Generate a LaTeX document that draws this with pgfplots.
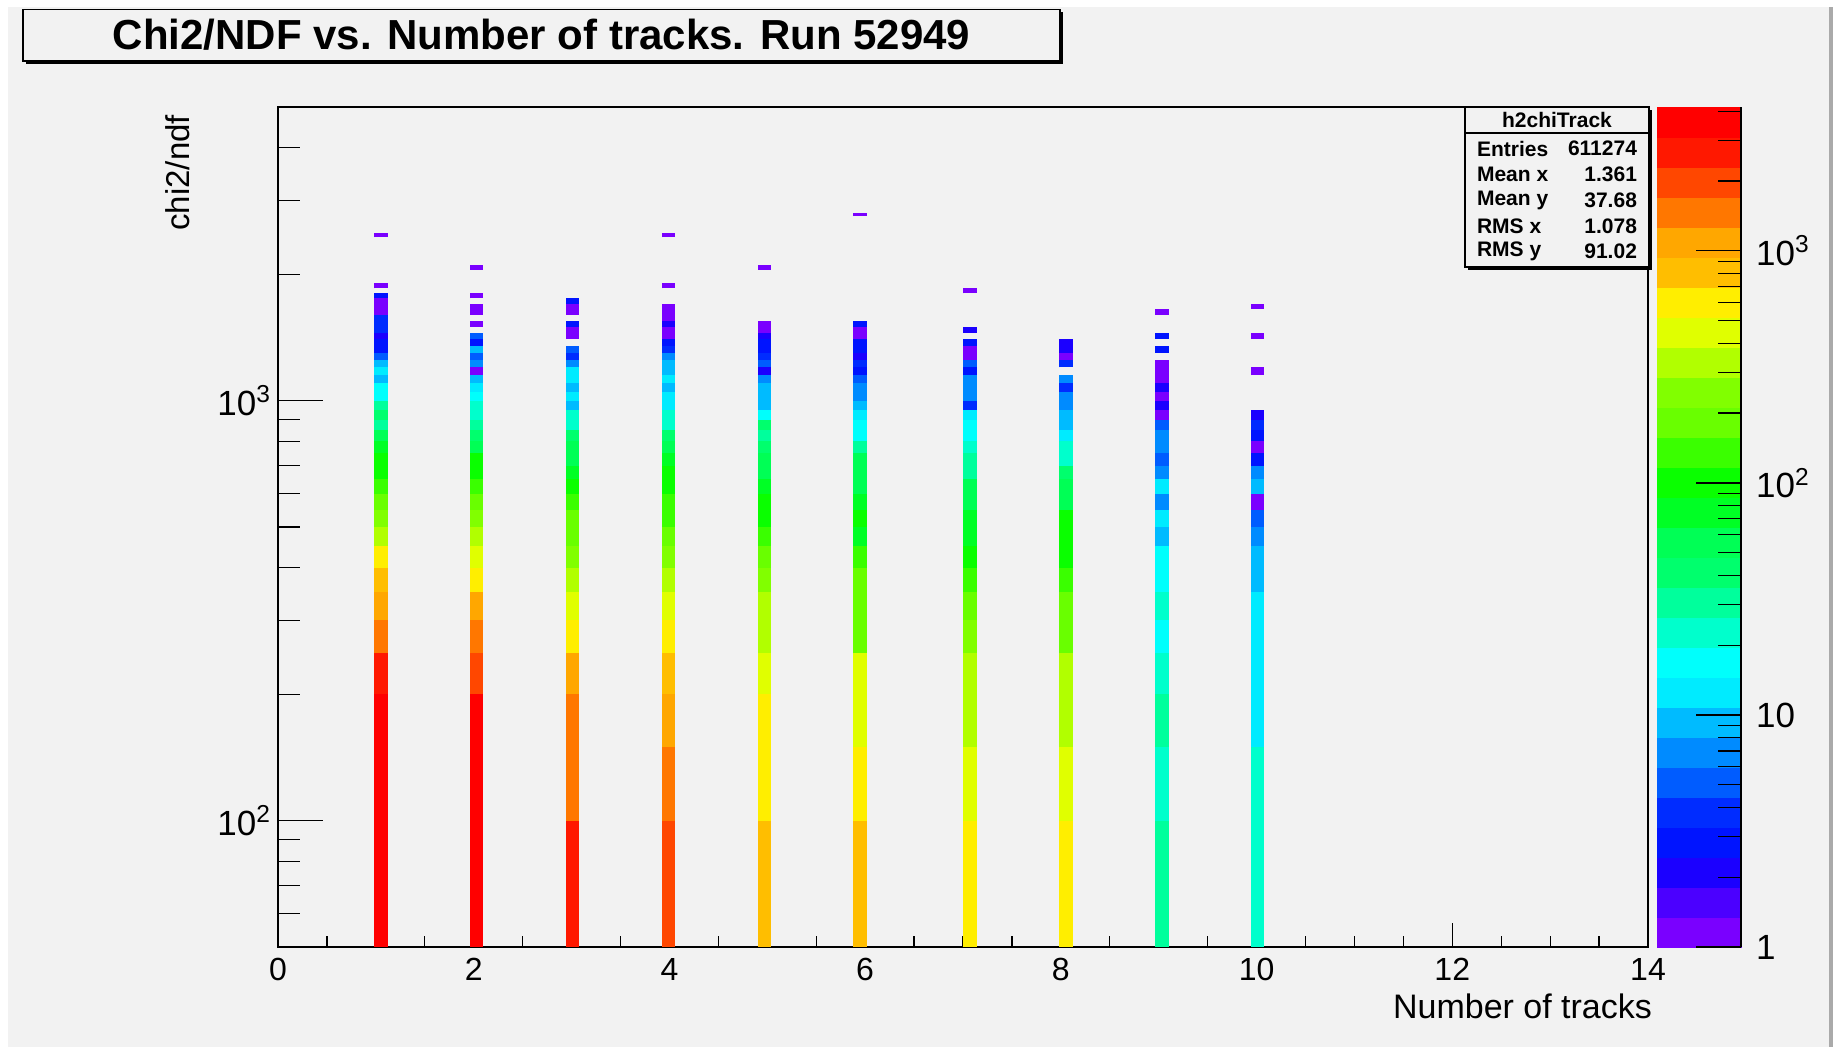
\documentclass[border=0pt]{standalone}
\usepackage{pgfplots}
\pgfplotsset{compat=1.18}
\usepackage{pgfplotstable}
\usepackage{fontspec}
\setmainfont{Liberation Sans}

\definecolor{rootbg}{RGB}{242,242,242}
\definecolor{rootedge}{RGB}{170,170,170}

% ROOT "pretty" palette, 28 contour levels
\pgfplotsset{
  colormap={rootpretty}{
    rgb255=(122,0,255) rgb255=(75,0,255) rgb255=(27,0,255) rgb255=(0,20,255)
    rgb255=(0,44,255) rgb255=(0,92,255) rgb255=(0,139,255) rgb255=(0,187,255)
    rgb255=(0,235,255) rgb255=(0,255,252) rgb255=(0,255,204) rgb255=(0,255,156)
    rgb255=(0,255,109) rgb255=(0,255,85) rgb255=(0,255,37) rgb255=(10,255,0)
    rgb255=(58,255,0) rgb255=(105,255,0) rgb255=(129,255,0) rgb255=(177,255,0)
    rgb255=(224,255,0) rgb255=(255,238,0) rgb255=(255,190,0) rgb255=(255,167,0)
    rgb255=(255,119,0) rgb255=(255,71,0) rgb255=(255,24,0) rgb255=(255,0,0)
  }
}

% h2chiTrack: x = bin centre (bin width 0.14), y = lower edge of chi2/ndf bin (width 50), n = entries
% a row with y = nan closes a run of filled bins (its last row is the upper edge)
\pgfplotstableread{
x y n
1.05 50 3436
1.05 100 3436
1.05 150 3436
1.05 200 2555
1.05 250 1413
1.05 300 1051
1.05 350 782
1.05 400 581
1.05 450 322
1.05 500 239
1.05 550 178
1.05 600 132
1.05 650 98
1.05 700 98
1.05 750 73
1.05 800 54
1.05 850 30
1.05 900 40
1.05 950 30
1.05 1000 17
1.05 1050 17
1.05 1100 9
1.05 1150 12
1.05 1200 9
1.05 1250 5
1.05 1300 3
1.05 1350 3
1.05 1400 2
1.05 1450 4
1.05 1500 4
1.05 1550 4
1.05 1600 1
1.05 1650 1
1.05 1700 1
1.05 1750 3
1.05 1800 1
1.05 nan 1
1.05 1850 1
1.05 1900 1
1.05 nan 1
1.05 2450 1
1.05 2500 1
1.05 nan 1
2.03 50 3436
2.03 100 3436
2.03 150 3436
2.03 200 1900
2.03 250 1413
2.03 300 1051
2.03 350 581
2.03 400 432
2.03 450 322
2.03 500 239
2.03 550 178
2.03 600 132
2.03 650 98
2.03 700 98
2.03 750 54
2.03 800 40
2.03 850 30
2.03 900 22
2.03 950 22
2.03 1000 17
2.03 1050 12
2.03 1100 9
2.03 1150 1
2.03 1200 7
2.03 1250 5
2.03 1300 9
2.03 1350 3
2.03 1400 5
2.03 1450 1
2.03 nan 1
2.03 1500 1
2.03 1550 1
2.03 nan 1
2.03 1600 1
2.03 1650 1
2.03 1700 1
2.03 nan 1
2.03 1750 1
2.03 1800 1
2.03 nan 1
2.03 2050 1
2.03 2100 1
2.03 nan 1
3.01 50 2555
3.01 100 1413
3.01 150 1413
3.01 200 1051
3.01 250 581
3.01 300 432
3.01 350 322
3.01 400 239
3.01 450 178
3.01 500 178
3.01 550 132
3.01 600 98
3.01 650 73
3.01 700 54
3.01 750 54
3.01 800 40
3.01 850 22
3.01 900 22
3.01 950 9
3.01 1000 12
3.01 1050 9
3.01 1100 12
3.01 1150 12
3.01 1200 7
3.01 1250 4
3.01 1300 5
3.01 1350 1
3.01 nan 1
3.01 1400 1
3.01 1450 1
3.01 1500 3
3.01 1550 1
3.01 nan 1
3.01 1600 1
3.01 1650 1
3.01 1700 3
3.01 1750 1
3.01 nan 1
3.99 50 1900
3.99 100 1413
3.99 150 1051
3.99 200 782
3.99 250 581
3.99 300 432
3.99 350 322
3.99 400 239
3.99 450 178
3.99 500 132
3.99 550 132
3.99 600 98
3.99 650 98
3.99 700 73
3.99 750 54
3.99 800 40
3.99 850 22
3.99 900 22
3.99 950 12
3.99 1000 12
3.99 1050 9
3.99 1100 12
3.99 1150 9
3.99 1200 9
3.99 1250 7
3.99 1300 4
3.99 1350 3
3.99 1400 1
3.99 1450 1
3.99 1500 2
3.99 1550 1
3.99 1600 1
3.99 1650 1
3.99 1700 1
3.99 nan 1
3.99 1850 1
3.99 1900 1
3.99 nan 1
3.99 2450 1
3.99 2500 1
3.99 nan 1
4.97 50 782
4.97 100 581
4.97 150 581
4.97 200 432
4.97 250 322
4.97 300 322
4.97 350 239
4.97 400 178
4.97 450 132
4.97 500 98
4.97 550 98
4.97 600 73
4.97 650 54
4.97 700 54
4.97 750 40
4.97 800 30
4.97 850 40
4.97 900 17
4.97 950 9
4.97 1000 9
4.97 1050 9
4.97 1100 7
4.97 1150 2
4.97 1200 5
4.97 1250 4
4.97 1300 3
4.97 1350 3
4.97 1400 2
4.97 1450 1
4.97 1500 1
4.97 1550 1
4.97 nan 1
4.97 2050 1
4.97 2100 1
4.97 nan 1
5.95 50 782
5.95 100 581
5.95 150 432
5.95 200 432
5.95 250 178
5.95 300 178
5.95 350 178
5.95 400 132
5.95 450 73
5.95 500 98
5.95 550 73
5.95 600 54
5.95 650 54
5.95 700 54
5.95 750 30
5.95 800 17
5.95 850 17
5.95 900 12
5.95 950 9
5.95 1000 7
5.95 1050 7
5.95 1100 5
5.95 1150 3
5.95 1200 4
5.95 1250 2
5.95 1300 3
5.95 1350 3
5.95 1400 1
5.95 1450 1
5.95 1500 3
5.95 1550 1
5.95 nan 1
5.95 2750 1
5.95 2800 1
5.95 nan 1
7.07 50 581
7.07 100 432
7.07 150 322
7.07 200 322
7.07 250 239
7.07 300 178
7.07 350 132
7.07 400 98
7.07 450 73
7.07 500 73
7.07 550 54
7.07 600 54
7.07 650 30
7.07 700 30
7.07 750 22
7.07 800 17
7.07 850 17
7.07 900 12
7.07 950 4
7.07 1000 7
7.07 1050 7
7.07 1100 7
7.07 1150 3
7.07 1200 5
7.07 1250 1
7.07 1300 1
7.07 1350 3
7.07 1400 1
7.07 nan 1
7.07 1450 2
7.07 1500 1
7.07 nan 1
7.07 1800 1
7.07 1850 1
7.07 nan 1
8.05 50 581
8.05 100 432
8.05 150 322
8.05 200 322
8.05 250 178
8.05 300 178
8.05 350 132
8.05 400 98
8.05 450 98
8.05 500 98
8.05 550 54
8.05 600 54
8.05 650 40
8.05 700 22
8.05 750 22
8.05 800 12
8.05 850 9
8.05 900 9
8.05 950 7
8.05 1000 7
8.05 1050 4
8.05 1100 7
8.05 1150 1
8.05 nan 1
8.05 1200 4
8.05 1250 1
8.05 1300 2
8.05 1350 2
8.05 1400 1
8.05 nan 1
9.03 50 30
9.03 100 22
9.03 150 30
9.03 200 22
9.03 250 17
9.03 300 22
9.03 350 17
9.03 400 17
9.03 450 9
9.03 500 12
9.03 550 7
9.03 600 12
9.03 650 7
9.03 700 5
9.03 750 7
9.03 800 7
9.03 850 5
9.03 900 1
9.03 950 2
9.03 1000 1
9.03 1050 2
9.03 1100 1
9.03 1150 1
9.03 1200 1
9.03 1250 1
9.03 nan 1
9.03 1300 3
9.03 1350 1
9.03 nan 1
9.03 1400 3
9.03 1450 1
9.03 nan 1
9.03 1600 1
9.03 1650 1
9.03 nan 1
10.01 50 22
10.01 100 22
10.01 150 12
10.01 200 12
10.01 250 12
10.01 300 12
10.01 350 9
10.01 400 9
10.01 450 7
10.01 500 5
10.01 550 1
10.01 600 9
10.01 650 7
10.01 700 3
10.01 750 1
10.01 800 3
10.01 850 4
10.01 900 2
10.01 950 1
10.01 nan 1
10.01 1150 1
10.01 1200 1
10.01 nan 1
10.01 1400 1
10.01 1450 1
10.01 nan 1
10.01 1650 1
10.01 1700 1
10.01 nan 1
}\chitrack

\begin{document}
\begin{tikzpicture}
% canvas (1 px of the original = 0.5pt, origin at the lower left corner of the frame)
\useasboundingbox (-139pt,-50pt) rectangle (777.5pt,473.5pt);
\fill[white] (-139pt,-50pt) rectangle (777.5pt,473.5pt);
\fill[rootedge] (-135pt,-50pt) rectangle (777.5pt,470pt);
\fill[rootbg] (-135pt,-50pt) rectangle (775.5pt,470pt);

% title box
\fill[black] (-126pt,441.5pt) rectangle (392.5pt,467.25pt);
\draw[fill=rootbg, line width=0.7pt] (-127.5pt,443pt) rectangle (391pt,468.75pt);
\node[font=\fontsize{21}{21}\selectfont\bfseries] at (131.75pt,455.9pt)
  {Chi2/NDF vs. Number of tracks. Run 52949};

\begin{axis}[
  at={(0pt,0pt)}, anchor=south west,
  scale only axis, width=685pt, height=420pt,
  xmin=0, xmax=14,
  ymode=log, ymin=50, ymax=5000,
  axis background/.style={fill=rootbg},
  axis line style={line width=0.8pt},
  tick align=inside,
  xtick pos=left, ytick pos=left,
  xtick={0,2,...,14}, minor x tick num=3,
  ytick={100,1000},
  yticklabels={10\textsuperscript{2},10\textsuperscript{3}},
  minor ytick={60,70,80,90,200,300,400,500,600,700,800,900,2000,3000,4000},
  xtick style={black, line width=0.6pt, /pgfplots/major tick length=12pt, /pgfplots/minor tick length=5.5pt},
  ytick style={black, line width=0.6pt, /pgfplots/major tick length=22.5pt, /pgfplots/minor tick length=11pt},
  /pgf/number format/assume math mode=true,
  xticklabel style={font=\fontsize{16}{16}\selectfont, yshift=-2pt},
  yticklabel style={font=\fontsize{17.5}{17.5}\selectfont},
  xlabel={Number of tracks},
  xlabel style={at={(rel axis cs:1,0)}, anchor=base east, xshift=5.5pt, yshift=-36pt,
    font=\fontsize{17}{17}\selectfont},
  ylabel={chi2/ndf},
  ylabel style={at={([xshift=-50pt,yshift=-0.5pt]rel axis cs:0,1)}, anchor=east,
    font=\fontsize{16.5}{16.5}\selectfont},
  colormap name=rootpretty,
  colormap access=piecewise constant,
  point meta min=0, point meta max=3.62,
  colorbar,
  colorbar style={
    at={(parent axis.north east)}, anchor=north west, xshift=-4pt,
    width=42pt,
    axis x line=none, axis y line*=right,
    axis line style={line width=0.8pt},
    tick align=inside,
    ytick={0,1,2,3},
    yticklabels={1,10,10\textsuperscript{2},10\textsuperscript{3}},
    minor ytick={0.301,0.477,0.602,0.699,0.778,0.845,0.903,0.954,
      1.301,1.477,1.602,1.699,1.778,1.845,1.903,1.954,
      2.301,2.477,2.602,2.699,2.778,2.845,2.903,2.954,
      3.301,3.477,3.602},
    ytick style={black, line width=0.6pt, /pgfplots/major tick length=22.5pt, /pgfplots/minor tick length=11.5pt},
    yticklabel style={font=\fontsize{17.5}{17.5}\selectfont, xshift=4pt, anchor=west},
  },
]
\addplot[mesh, shader=flat corner, line width=6.85pt, unbounded coords=jump,
  point meta={log10(\thisrow{n})}]
  table[x=x, y=y] {\chitrack};
\end{axis}

% statistics box
\fill[black] (595pt,338.5pt) rectangle (687pt,418.5pt);
\draw[fill=rootbg, line width=0.7pt] (593.5pt,340pt) rectangle (685.5pt,420pt);
\draw[line width=0.6pt] (593.5pt,407pt) -- (685.5pt,407pt);
\begin{scope}[font=\fontsize{10.5}{10.5}\selectfont\bfseries]
\node at (639.5pt,413.5pt) {h2chiTrack};
\node[anchor=west] at (596pt,399.2pt) {Entries};
\node[anchor=east] at (683pt,399.2pt) {611274};
\node[anchor=west] at (596pt,386.5pt) {Mean x};
\node[anchor=east] at (683pt,386.5pt) {1.361};
\node[anchor=west] at (596pt,373.5pt) {Mean y};
\node[anchor=east] at (683pt,373.5pt) {37.68};
\node[anchor=west] at (596pt,360.5pt) {RMS x};
\node[anchor=east] at (683pt,360.5pt) {1.078};
\node[anchor=west] at (596pt,348pt) {RMS y};
\node[anchor=east] at (683pt,348pt) {91.02};
\end{scope}
\end{tikzpicture}
\end{document}
